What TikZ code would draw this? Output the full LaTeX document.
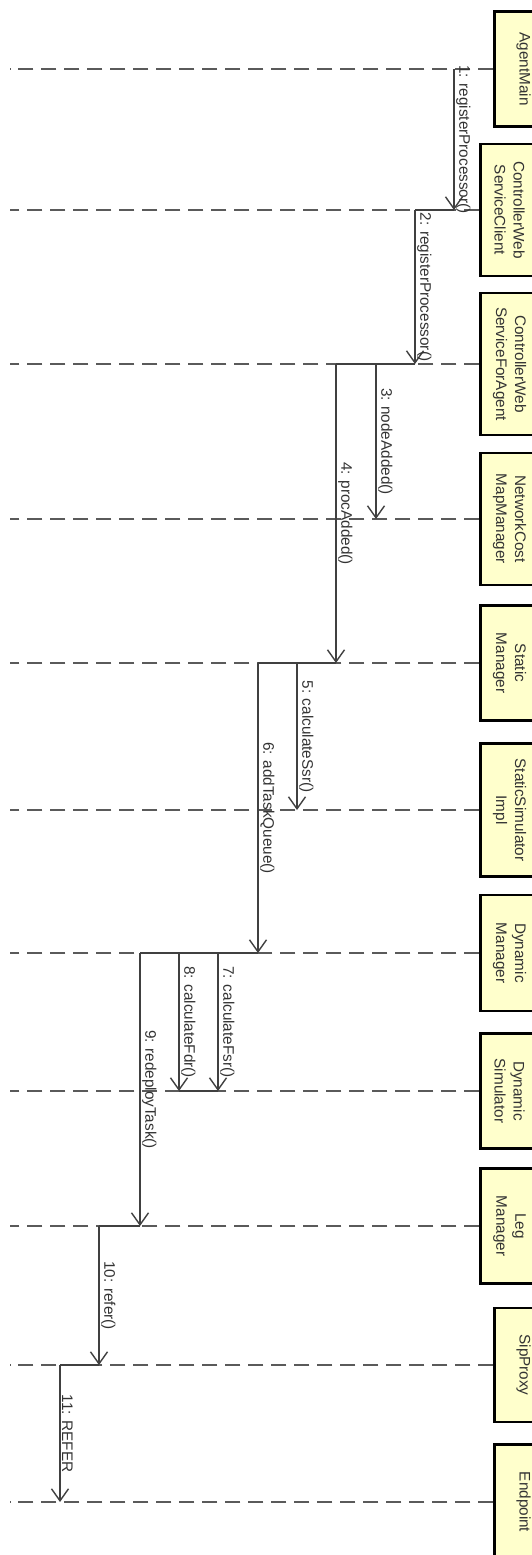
\documentclass[tikz,border=0pt]{standalone}
\usepackage{fontspec}
\setmainfont{Liberation Sans}
\usetikzlibrary{arrows.meta, calc}
\definecolor{SeqYellow}{HTML}{FFFFCC}
\definecolor{SeqLine}{HTML}{404040}
\definecolor{SeqDash}{HTML}{5A5A5A}
\definecolor{SeqText}{HTML}{333333}
\tikzset{
    objbox/.style={
        draw=black,
        line width=2.6pt,
        fill=SeqYellow,
        rotate=-90,
        anchor=south,
        minimum width=#1,
        minimum height=58pt,
        inner sep=0pt,
        text=SeqText,
        font=\fontsize{15.3pt}{19pt}\selectfont,
        align=center
    },
    objbox/.default=115pt,
    lifeline/.style={
        SeqDash,
        line width=1.8pt,
        dash pattern=on 15pt off 8pt
    },
    activation/.style={
        SeqLine,
        line width=1.4pt
    },
    msg/.style={
        -{Straight Barb[length=12pt, width=17pt]},
        SeqLine,
        line width=1.4pt
    },
    msglabel/.style={
        pos=0.5,
        anchor=south,
        rotate=-90,
        inner sep=1.5pt,
        text=SeqText,
        font=\fontsize{15.3pt}{19pt}\selectfont
    }
}

\begin{document}
\begin{tikzpicture}[x=1pt, y=-1pt]
    \useasboundingbox (0,0) rectangle (532,1555);

    % Objects
    \node[objbox=115pt] (agent) at (493.3,69) {AgentMain};
    \node[objbox=132pt] (cwsc) at (479.3,210) {ControllerWeb\\ServiceClient};
    \node[objbox=142pt] (cwsfa) at (479.3,364) {ControllerWeb\\ServiceForAgent};
    \node[objbox=132pt] (ncmm) at (479.3,519) {NetworkCost\\MapManager};
    \node[objbox=115pt] (sm) at (479.3,663) {Static\\Manager};
    \node[objbox=133pt] (ssi) at (479.3,810) {StaticSimulator\\Impl};
    \node[objbox=116pt] (dm) at (479.3,953) {Dynamic\\Manager};
    \node[objbox=115pt] (ds) at (479.3,1091) {Dynamic\\Simulator};
    \node[objbox=115pt] (lm) at (479.3,1226) {Leg\\Manager};
    \node[objbox=114pt] (sip) at (493.3,1365) {SipProxy};
    \node[objbox=115pt] (ep) at (493.3,1502) {Endpoint};

    % Lifelines
    \foreach \obj in {agent,cwsc,cwsfa,ncmm,sm,ssi,dm,ds,lm,sip,ep} {
        \coordinate (\obj-end) at (10,0 |- \obj.south);
        \draw[lifeline] (\obj.south) -- (\obj-end);
    }

    % Activations
    \draw[activation] (415,0 |- cwsc.south) -- (454,0 |- cwsc.south);
    \draw[activation] (336,0 |- cwsfa.south) -- (415,0 |- cwsfa.south);
    \draw[activation] (258,0 |- sm.south) -- (336,0 |- sm.south);
    \draw[activation] (140,0 |- dm.south) -- (258,0 |- dm.south);
    \draw[activation] (179,0 |- ds.south) -- (218,0 |- ds.south);
    \draw[activation] (99,0 |- lm.south) -- (140,0 |- lm.south);
    \draw[activation] (60,0 |- sip.south) -- (99,0 |- sip.south);

    % Messages
    \draw[msg] (454,0 |- agent.south) -- (454,0 |- cwsc.south) node[msglabel] {1: registerProcessor()};
    \draw[msg] (415,0 |- cwsc.south) -- (415,0 |- cwsfa.south) node[msglabel] {2: registerProcessor()};
    \draw[msg] (376,0 |- cwsfa.south) -- (376,0 |- ncmm.south) node[msglabel] {3: nodeAdded()};
    \draw[msg] (336,0 |- cwsfa.south) -- (336,0 |- sm.south) node[msglabel] {4: procAdded()};
    \draw[msg] (297,0 |- sm.south) -- (297,0 |- ssi.south) node[msglabel] {5: calculateSsr()};
    \draw[msg] (258,0 |- sm.south) -- (258,0 |- dm.south) node[msglabel] {6: addTaskQueue()};
    \draw[msg] (218,0 |- dm.south) -- (218,0 |- ds.south) node[msglabel] {7: calculateFsr()};
    \draw[msg] (179,0 |- dm.south) -- (179,0 |- ds.south) node[msglabel] {8: calculateFdr()};
    \draw[msg] (140,0 |- dm.south) -- (140,0 |- lm.south) node[msglabel] {9: redeployTask()};
    \draw[msg] (99,0 |- lm.south) -- (99,0 |- sip.south) node[msglabel] {10: refer()};
    \draw[msg] (60,0 |- sip.south) -- (60,0 |- ep.south) node[msglabel] {11: REFER};
\end{tikzpicture}
\end{document}
